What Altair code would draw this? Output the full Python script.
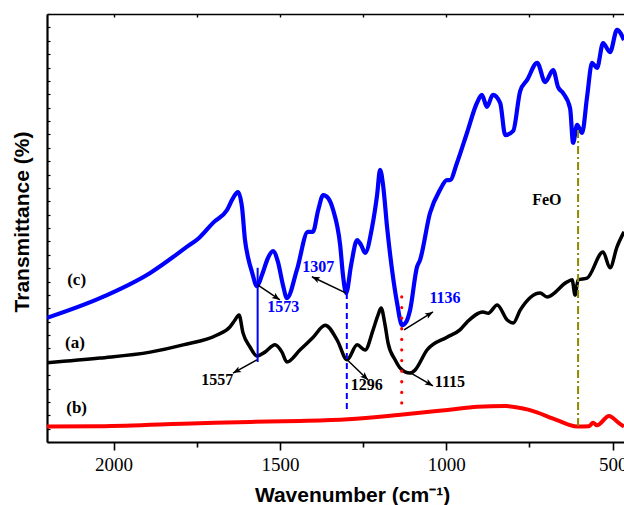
import math
import altair as alt
import pandas as pd

# ---------------- data ----------------
red_wn = [2200, 2041, 1743, 1590, 1440, 1295, 1145, 996, 906, 823, 751, 667, 607, 571, 559, 547, 511, 481, 466]
red_t = [3.6, 3.7, 4.4, 4.7, 4.9, 5.3, 6.3, 7.5, 8.25, 8.4, 7.5, 5.1, 3.6, 3.7, 4.5, 3.9, 6.1, 4.4, 3.6]

black_wn = [2200, 2041, 1890, 1791, 1689, 1650, 1635, 1623, 1611, 1590, 1569, 1545, 1515, 1494, 1479,
            1440, 1400, 1364, 1328, 1298, 1268, 1244, 1220, 1205, 1196, 1184, 1175, 1154, 1139, 1109,
            1094, 1058, 998, 959, 938, 890, 874, 847, 817, 799, 778, 718, 697, 637, 622, 613, 604, 577,
            529, 508, 487, 466]
black_t = [18.5, 19.6, 21.0, 22.7, 25.0, 26.9, 28.5, 29.7, 25.5, 22.2, 20.1, 21.0, 22.7, 21.0, 18.7,
           21.5, 24.5, 27.3, 23.8, 19.2, 22.7, 21.5, 26.2, 29.7, 31.3, 27.3, 23.1, 19.2, 17.3, 16.1,
           16.8, 21.5, 24.5, 26.2, 28.0, 30.4, 30.1, 32.0, 28.5, 27.8, 30.8, 34.8, 33.9, 37.4, 37.9, 34.3,
           37.9, 38.3, 44.4, 40.7, 45.6, 49.1]

blue_wn = [2200, 2041, 1890, 1785, 1740, 1701, 1659, 1641, 1626, 1614, 1605, 1596, 1584, 1569, 1554,
           1536, 1521, 1506, 1491, 1479, 1449, 1416, 1401, 1385, 1370, 1355, 1340, 1319, 1310, 1301,
           1286, 1268, 1256, 1244, 1223, 1208, 1199, 1190, 1178, 1163, 1148, 1133, 1121, 1109, 1088,
           1079, 1049, 1019, 998, 989, 968, 938, 908, 893, 878, 860, 838, 823, 799, 778, 757, 727, 703,
           679, 664, 649, 628, 619, 607, 592, 577, 562, 547, 529, 508, 487, 466]
blue_t = [29.0, 33.6, 39.5, 45.3, 47.9, 51.2, 54.2, 57.0, 58.4, 54.9, 47.2, 43.2, 39.7, 36.4, 39.0,
          43.0, 44.6, 42.1, 36.7, 33.6, 40.2, 49.1, 49.1, 54.2, 57.7, 57.0, 54.2, 46.0, 38.6, 34.8,
          41.4, 47.2, 46.0, 44.2, 50.2, 57.7, 63.6, 60.0, 50.2, 40.2, 32.5, 27.3, 28.0, 30.8, 40.9,
          42.5, 53.5, 58.9, 61.2, 61.2, 65.2, 72.2, 79.2, 81.1, 78.3, 81.1, 79.2, 71.7, 72.7, 82.0,
          84.6, 88.6, 84.1, 86.9, 82.9, 81.5, 78.0, 69.9, 74.1, 72.2, 80.6, 88.6, 87.4, 93.2, 91.1,
          96.3, 93.9]

# curve labels
curve_labels = ["(c)", "(a)", "(b)"]
curve_label_wn = [2111, 2116, 2111]
curve_label_t = [37.9, 23.2, 7.9]

# peak labels
peak_labels = ["1573", "1307", "1136", "1557", "1296", "1115", "FeO"]
peak_label_wn = [1490, 1385, 1004, 1688, 1239, 989, 698]
peak_label_t = [31.6, 40.8, 33.6, 14.5, 13.3, 14.1, 56.5]
peak_label_color = ["#0000ff", "#0000ff", "#0000ff", "black", "black", "black", "black"]

# arrows (start -> tip)
arrow_wn1 = [1567, 1301, 1127, 1569, 1298, 1106]
arrow_t1 = [36.7, 34.8, 26.2, 19.2, 19.2, 16.1]
arrow_wn2 = [1500, 1404, 1040, 1641, 1235, 1040]
arrow_t2 = [33.2, 38.6, 30.4, 16.1, 14.5, 13.1]

# marker lines
solid_wn, solid_t1, solid_t2 = [1567], [40.7], [18.7]
dash_wn, dash_t1, dash_t2 = [1299], [34.8], [7.5]
dot_wn, dot_t1, dot_t2 = [1134], [33.9], [9.1]
feo_wn, feo_t1, feo_t2 = [604], [72.9], [3.3]

major_ticks = [2000, 1500, 1000, 500]
minor_ticks = [1750, 1250, 750]
all_ticks = [2000, 1750, 1500, 1250, 1000, 750, 500]

# ---------------- layout ----------------
W, H = 577, 428
XMIN, XMAX = 466, 2200
YMIN, YMAX = 0, 100
y_ticks = [YMIN + i * (YMAX - YMIN) / 32 for i in range(33)]

xs = alt.Scale(domain=[XMIN, XMAX], reverse=True, nice=False, zero=False)
ys = alt.Scale(domain=[YMIN, YMAX], nice=False, zero=False)

SERIF = "Liberation Serif"
SANS = "Liberation Sans"


def curve_df(wn, t):
    return pd.DataFrame({"wn": wn, "t": t})


red_layer = alt.Chart(curve_df(red_wn, red_t)).mark_line(
    color="#ff0000", strokeWidth=4, interpolate="monotone", clip=True
).encode(
    x=alt.X("wn:Q", scale=xs, axis=alt.Axis(
        orient="bottom", values=major_ticks, format="d", tickSize=8, tickWidth=1.6, tickColor="black",
        domainColor="black", domainWidth=2.2, grid=False,
        labelFont=SERIF, labelFontSize=19, labelColor="black", labelPadding=5, labelFlush=False,
        title="Wavenumber (cm⁻¹)", titleFont=SANS, titleFontWeight="bold", titleFontSize=21,
        titleColor="black", titleX=305, titleY=59.5, titleAlign="center", titleBaseline="alphabetic")),
    y=alt.Y("t:Q", scale=ys, axis=alt.Axis(
        orient="left", ticks=False, labels=False, domainColor="black", domainWidth=2.2, grid=False,
        title="Transmittance (%)", titleFont=SANS, titleFontWeight="bold", titleFontSize=21,
        titleColor="black", titleAngle=270, titleX=-24.5, titleY=207.5,
        titleAlign="center", titleBaseline="middle")),
)

black_layer = alt.Chart(curve_df(black_wn, black_t)).mark_line(
    color="black", strokeWidth=3.5, interpolate="monotone", clip=True
).encode(
    x=alt.X("wn:Q", scale=xs, axis=alt.Axis(
        orient="bottom", values=minor_ticks, tickSize=5, tickWidth=1.6, tickColor="black",
        labels=False, domain=False, grid=False, title=None)),
    y=alt.Y("t:Q", scale=ys, axis=alt.Axis(
        orient="right", offset=-W, values=y_ticks, tickSize=3, tickWidth=1.2, tickColor="black",
        labels=False, domain=False, grid=False, title=None)),
)

blue_layer = alt.Chart(curve_df(blue_wn, blue_t)).mark_line(
    color="#0000ff", strokeWidth=4.2, interpolate="monotone", clip=True
).encode(
    x=alt.X("wn:Q", scale=xs, axis=alt.Axis(
        orient="bottom", offset=-H, values=all_ticks, tickSize=3, tickWidth=1.4, tickColor="black",
        labels=False, domain=True, domainColor="black", domainWidth=1.6, grid=False, title=None)),
    y=alt.Y("t:Q", scale=ys, axis=None),
)


def vline(wn, t1, t2, color, width, dash=None, cap="butt"):
    df = pd.DataFrame({"wn": wn, "t1": t1, "t2": t2})
    kw = dict(color=color, strokeWidth=width, strokeCap=cap)
    if dash is not None:
        kw["strokeDash"] = dash
    return alt.Chart(df).mark_rule(**kw).encode(
        x=alt.X("wn:Q", scale=xs, axis=None),
        y=alt.Y("t1:Q", scale=ys, axis=None),
        y2="t2:Q",
    )


solid_line = vline(solid_wn, solid_t1, solid_t2, "#0000ff", 2)
dash_line = vline(dash_wn, dash_t1, dash_t2, "#0000ff", 2, [6, 4])
dot_line = vline(dot_wn, dot_t1, dot_t2, "#ff0000", 3.2, [0.1, 10.5], "round")
feo_line = vline(feo_wn, feo_t1, feo_t2, "#8b8b00", 2, [8, 3, 2, 3])

# arrows
sx = W / (XMAX - XMIN)
sy = H / (YMAX - YMIN)
angles = []
for a, b, c, d in zip(arrow_wn1, arrow_t1, arrow_wn2, arrow_t2):
    dx = -(c - a) * sx
    dy = -(d - b) * sy
    angles.append(math.degrees(math.atan2(dx, -dy)) % 360)

arrow_df = pd.DataFrame({"wn1": arrow_wn1, "t1": arrow_t1, "wn2": arrow_wn2, "t2": arrow_t2,
                         "ang": angles})

arrow_shafts = alt.Chart(arrow_df).mark_rule(color="black", strokeWidth=1.5).encode(
    x=alt.X("wn1:Q", scale=xs, axis=None), x2="wn2:Q",
    y=alt.Y("t1:Q", scale=ys, axis=None), y2="t2:Q",
)
arrow_heads = alt.Chart(arrow_df).mark_point(
    shape="M0,0L0.75,1.9L0,1.45L-0.75,1.9Z", filled=True, size=72, color="black", opacity=1,
    strokeWidth=0,
).encode(
    x=alt.X("wn2:Q", scale=xs, axis=None),
    y=alt.Y("t2:Q", scale=ys, axis=None),
    angle=alt.Angle("ang:Q", scale=None),
)

curve_text = alt.Chart(pd.DataFrame({"wn": curve_label_wn, "t": curve_label_t, "label": curve_labels})).mark_text(
    font=SERIF, fontWeight="bold", fontSize=17, color="black", align="center", baseline="middle"
).encode(
    x=alt.X("wn:Q", scale=xs, axis=None),
    y=alt.Y("t:Q", scale=ys, axis=None),
    text="label:N",
)

peak_text = alt.Chart(pd.DataFrame({"wn": peak_label_wn, "t": peak_label_t, "label": peak_labels,
                                    "c": peak_label_color})).mark_text(
    font=SERIF, fontWeight="bold", fontSize=16, align="center", baseline="middle"
).encode(
    x=alt.X("wn:Q", scale=xs, axis=None),
    y=alt.Y("t:Q", scale=ys, axis=None),
    text="label:N",
    color=alt.Color("c:N", scale=None),
)

chart = alt.layer(
    red_layer, black_layer, blue_layer,
    solid_line, dash_line, dot_line, feo_line,
    arrow_shafts, arrow_heads, curve_text, peak_text,
).resolve_axis(x="independent", y="independent").properties(
    width=W, height=H,
    autosize=alt.AutoSizeParams(type="none"),
    padding={"left": 47, "top": 14, "right": 0, "bottom": 63},
    background="white",
).configure_view(stroke=None)

chart.save("out.html", embed_options={"renderer": "svg", "actions": False})
